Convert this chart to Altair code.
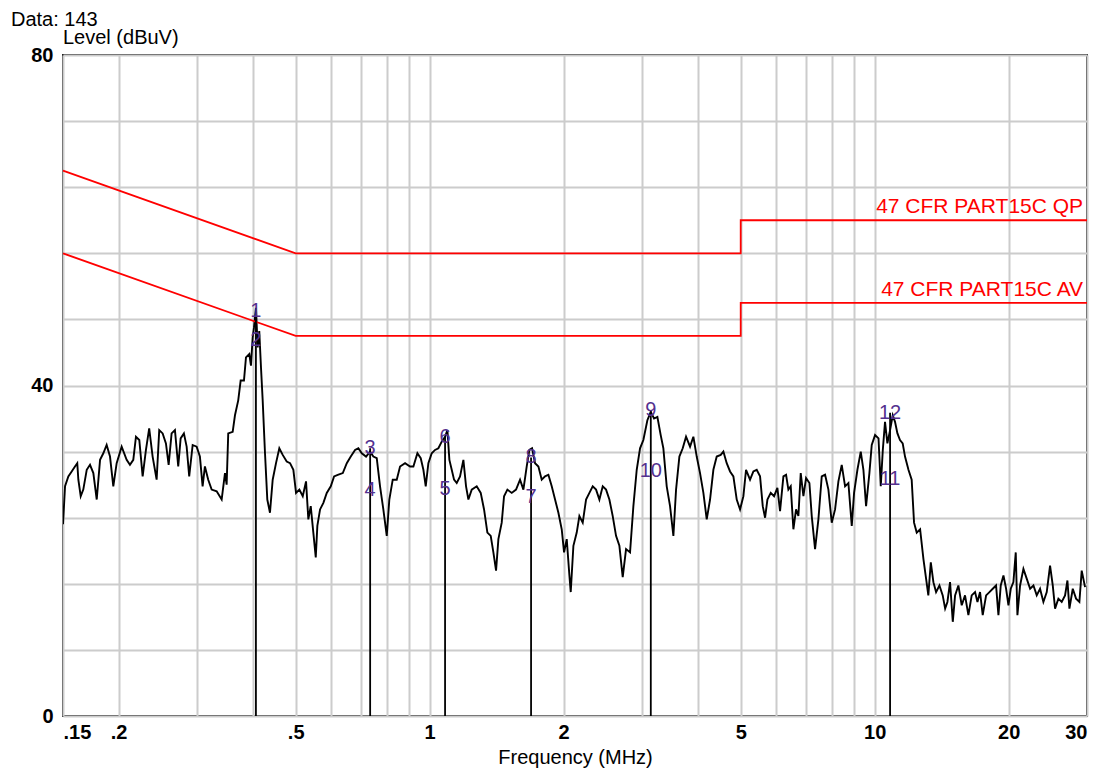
import altair as alt
import pandas as pd

# ---------------- data ----------------
freq_a = [0.150,0.1516,0.1542,0.1569,0.1596,0.1615,0.1624,0.1644,0.1666,0.1696,
          0.1725,0.1755,0.1786,0.1817,0.1848,0.1880,0.1913,0.1946,0.1980,0.2032,
          0.2085,0.2121,0.2158,0.2188,0.2226,0.2265,0.2304,0.2343,0.2385,0.2435,
          0.2468,0.2512,0.2555,0.2591,0.2631,0.2677,0.2723,0.2757,0.2804,0.2844,
          0.2882,0.2934,0.2995,0.3046,0.3089,0.3126,0.3180,0.3237,0.3322,0.3409,
          0.3468,0.3498,0.3527,0.3609,0.3652,0.3714,0.3761,0.3826,0.3866,0.3933,
          0.3967,0.4002,0.4029,0.4071,0.4107,0.4141,0.4178,0.4215,0.4266,0.4317,
          0.4377,0.4439,0.4516,0.4594,0.4675,0.4773,0.4856,0.4940,0.5009,0.5096,
          0.5186,0.5275,0.5338,0.5405,0.5478,0.5547,0.5593,0.5672,0.5770,0.5872,
          0.5995,0.6099,0.6236,0.6380,0.6513,0.6649,0.6798,0.6915,0.7038,0.7196,
          0.7346,0.7473,0.7605,0.7736,0.7869,0.8009,0.8117,0.8261,0.8434,0.8580,
          0.8805,0.9035]
level_a = [23.2,27.8,29.0,29.6,30.2,30.6,28.6,26.6,27.4,29.8,
           30.4,29.4,26.2,31.0,31.8,32.8,31.4,27.8,30.6,32.6,
           31.0,30.4,31.0,33.8,33.4,29.0,32.2,34.8,31.4,28.6,
           34.6,34.2,33.0,30.4,34.2,34.6,30.2,33.6,34.2,32.6,
           29.0,32.8,32.6,31.4,27.8,30.2,28.6,27.4,27.2,26.2,
           29.4,28.0,34.2,34.4,36.4,38.2,40.6,40.6,43.4,43.8,
           42.4,45.8,47.0,49.4,44.6,46.6,42.2,38.2,31.8,26.2,
           24.6,28.6,30.6,32.4,31.6,30.8,30.6,29.8,27.0,27.4,
           26.6,28.4,23.8,25.4,22.2,19.2,23.0,25.0,25.8,27.0,
           27.8,29.0,29.2,29.4,30.6,31.4,32.2,32.4,31.8,31.4,
           32.0,31.4,31.2,27.8,25.0,21.8,26.2,28.6,28.6,30.2,
           30.6,30.2]

freq_b = [0.9193,0.9385,0.9549,0.9681,0.9799,0.9934,1.0108,1.0283,1.0462,1.0644,
          1.0830,1.0961,1.1075,1.1210,1.1345,1.1503,1.1703,1.1907,1.2072,1.2219,
          1.2432,1.2757,1.3024,1.3251,1.3481,1.3716,1.3906,1.4100,1.4271,1.4519,
          1.4695,1.4951,1.5290,1.5636,1.5963,1.6242,1.6524,1.6754,1.6987,1.7252,
          1.7553,1.7858,1.8170,1.8485,1.8807,1.9134,1.9467,1.9805,2.0046,2.0325,
          2.0607,2.0750,2.1038,2.1403,2.1700,2.2079,2.2462,2.2854,2.3250,2.3655,
          2.4066,2.4486,2.4911,2.5343,2.5785,2.6232,2.6690,2.7153,2.7627,2.8204,
          2.8694,2.9194,2.9701,3.0216,3.0849,3.1387,3.1931,3.2488,3.3052,3.3511,
          3.4096,3.4688,3.5293,3.5784,3.6405,3.7040,3.7683,3.8471,3.9138,3.9821,
          4.0512,4.1219,4.1938,4.2666,4.3406,4.4164,4.5087,4.5714,4.6507,4.7319,
          4.8140,4.8980,4.9830,5.0695,5.1399,5.2474,5.3390,5.4316,5.5264]
level_b = [30.2,31.8,31.2,29.8,27.8,30.6,31.8,32.2,32.4,33.2,
           33.8,34.6,31.0,29.8,28.6,28.2,29.0,31.0,27.8,26.2,
           27.4,27.8,27.0,25.0,22.2,21.8,19.8,17.6,21.4,23.4,
           26.6,27.4,27.0,27.4,28.6,27.4,30.2,32.2,32.4,30.6,
           30.2,28.6,29.0,29.2,27.8,26.2,24.6,22.6,19.8,21.4,
           17.0,15.0,20.6,22.2,24.2,23.4,26.2,27.0,27.8,27.4,
           26.2,27.8,27.4,26.2,24.2,21.8,20.6,16.8,20.2,19.8,
           25.4,29.8,32.4,33.4,35.8,36.8,36.0,36.2,34.0,32.4,
           27.8,25.4,21.8,27.4,31.4,32.4,33.8,32.6,33.8,31.4,
           29.4,27.0,23.8,26.2,29.8,31.4,31.6,32.0,30.6,29.6,
           29.0,26.2,25.0,26.6,29.8,28.6,29.6,29.8,29.0]

freq_c = [5.604,5.672,5.741,5.841,5.942,6.045,6.129,6.236,6.323,6.399,
          6.477,6.567,6.658,6.739,6.821,6.916,7.012,7.134,7.221,7.346,
          7.474,7.604,7.737,7.871,8.008,8.147,8.289,8.433,8.580,8.729,
          8.882,8.989,9.146,9.305,9.434,9.565,9.731,9.849,10.02,10.20,
          10.32,10.43,10.55,10.68,10.83,10.98,11.11,11.25,11.40,11.56,
          11.70,11.91,12.11,12.26,12.43,12.65,12.87,13.05,13.20,13.37,
          13.55,13.74,13.98,14.22,14.40,14.57,14.77,14.98,15.16,15.42,
          15.69,15.96,16.24,16.52,16.81,17.02,17.25,17.49,17.80,18.11,
          18.42,18.74,18.97,19.20,19.47,19.74,19.98,20.22,20.50,20.75,
          20.93,21.22,21.59,21.97,22.35,22.74,23.13,23.53,23.94,24.36,
          24.78,25.13,25.43,25.87,26.32,26.78,27.11,27.39,27.87,28.35,
          28.84,29.19,29.70]
level_c = [25.4,24.0,26.2,27.0,26.6,27.6,24.8,29.0,29.2,27.4,
           27.8,22.6,25.0,24.2,29.4,26.6,28.8,28.2,24.2,20.2,
           23.8,29.0,29.2,27.4,23.4,25.0,28.4,30.4,27.8,28.2,
           23.0,27.0,29.8,32.0,29.8,25.4,29.4,32.8,34.0,33.6,
           27.8,32.2,35.6,33.0,34.6,36.4,35.6,34.2,33.4,33.0,
           31.4,29.8,28.6,23.4,22.2,22.6,19.0,16.6,14.6,18.6,
           16.2,15.0,15.8,14.6,13.0,13.8,16.2,11.4,14.6,15.8,
           13.4,14.6,12.2,14.6,15.0,13.8,15.0,12.2,14.6,15.0,
           15.4,15.8,12.2,15.8,17.0,15.4,13.4,15.4,16.2,19.8,
           12.2,15.8,17.8,16.6,15.4,15.8,14.6,15.4,13.8,15.0,
           18.2,15.8,13.0,14.2,13.8,14.6,16.4,13.0,15.4,14.2,
           13.8,17.6,15.6]

# limit lines (47 CFR Part 15C)
limit_freq = [0.15, 0.5, 5, 5, 30]
qp_level = [66, 56, 56, 60, 60]
av_level = [56, 46, 46, 50, 50]
limit_names = ["47 CFR PART15C QP", "47 CFR PART15C AV"]
limit_label_freq = [29.4, 29.4]
limit_label_level = [61.6, 51.6]

# markers
marker_no = ["1", "2", "3", "4", "5", "6", "7", "8", "9", "10", "11", "12"]
marker_freq = [0.407, 0.407, 0.735, 0.735, 1.083, 1.083, 1.69, 1.69, 3.14, 3.14, 10.83, 10.83]
marker_level = [49.0, 45.5, 32.4, 27.4, 27.5, 33.8, 26.5, 31.3, 37.0, 29.6, 28.7, 36.7]

# axes
x_grid = [0.15, 0.2, 0.3, 0.4, 0.5, 0.6, 0.7, 0.8, 0.9, 1, 2, 3, 4, 5, 6, 7, 8, 9, 10, 20, 30]
y_grid = [0, 8, 16, 24, 32, 40, 48, 56, 64, 72, 80]

# ---------------- tables ----------------
trace = pd.DataFrame({"f": freq_a + freq_b + freq_c, "lvl": level_a + level_b + level_c})
trace["i"] = range(len(trace))

limits = pd.DataFrame({
    "f": limit_freq + limit_freq,
    "lvl": qp_level + av_level,
    "name": ["QP"] * 5 + ["AV"] * 5,
    "i": list(range(10)),
})
limit_labels = pd.DataFrame({"t": limit_names, "f": limit_label_freq, "lvl": limit_label_level})

markers = pd.DataFrame({"no": marker_no, "f": marker_freq, "lvl": marker_level})
rules = markers.groupby("f", as_index=False)["lvl"].max()
rules["base"] = 0

FONT = "Liberation Sans"

x_label_expr = ("datum.value == 0.15 ? '.15' : datum.value == 0.2 ? '.2' : datum.value == 0.5 ? '.5' : "
                "datum.value == 1 ? '1' : datum.value == 2 ? '2' : datum.value == 5 ? '5' : "
                "datum.value == 10 ? '10' : datum.value == 20 ? '20' : datum.value == 30 ? '30' : ''")
y_label_expr = "(datum.value == 0 || datum.value == 40 || datum.value == 80) ? datum.label : ''"

x_axis = alt.Axis(values=x_grid, labelExpr=x_label_expr, title="Frequency (MHz)",
                  grid=True, gridColor="#cccccc", gridWidth=2, ticks=False, tickSize=0,
                  domain=False, labelFlush=True, labelOverlap=False,
                  labelFont=FONT, labelFontSize=20, labelFontWeight="bold", labelColor="#000",
                  labelPadding=6, titleFont=FONT, titleFontSize=20, titleFontWeight="normal",
                  titleColor="#000", titlePadding=5)
y_axis = alt.Axis(values=y_grid, labelExpr=y_label_expr, title=None,
                  grid=True, gridColor="#cccccc", gridWidth=2, ticks=False, tickSize=0,
                  domain=False, labelOverlap=False,
                  labelFont=FONT, labelFontSize=20, labelFontWeight="bold", labelColor="#000",
                  labelPadding=10)

xs = alt.Scale(type="log", domain=[0.15, 30], nice=False)
ys = alt.Scale(domain=[0, 80], nice=False, zero=False)

X = alt.X("f:Q", scale=xs, axis=x_axis)
Y = alt.Y("lvl:Q", scale=ys, axis=y_axis)

trace_layer = alt.Chart(trace).mark_line(color="#000000", strokeWidth=1.9, clip=True).encode(
    x=X, y=Y, order="i:Q")

limit_layer = alt.Chart(limits).mark_line(color="#ff0000", strokeWidth=1.8).encode(
    x=X, y=Y, detail="name:N", order="i:Q")

rule_layer = alt.Chart(rules).mark_rule(color="#000000", strokeWidth=1.8).encode(
    x=X, y=alt.Y("base:Q", scale=ys, axis=y_axis), y2="lvl:Q")

marker_text = alt.Chart(markers).mark_text(font=FONT, fontSize=20, color="#54318f",
                                           align="center", baseline="middle").encode(
    x=X, y=Y, text="no:N")

limit_text = alt.Chart(limit_labels).mark_text(font=FONT, fontSize=21, color="#ff0000",
                                               align="right", baseline="middle").encode(
    x=X, y=Y, text="t:N")

title_df = pd.DataFrame({"t": ["Data: 143"]})
data_title = alt.Chart(title_df).mark_text(font=FONT, fontSize=20, color="#000", align="left",
                                           baseline="middle").encode(
    x=alt.value(-52), y=alt.value(-35), text="t:N")
level_df = pd.DataFrame({"t": ["Level (dBuV)"]})
level_title = alt.Chart(level_df).mark_text(font=FONT, fontSize=20, color="#000", align="left",
                                            baseline="middle").encode(
    x=alt.value(0), y=alt.value(-17), text="t:N")

chart = alt.layer(trace_layer, limit_layer, rule_layer, marker_text, limit_text,
                  data_title, level_title).properties(
    width=1024, height=661,
    autosize=alt.AutoSizeParams(type="none"),
    padding={"left": 55, "top": 47, "right": 12, "bottom": 55},
    background="#ffffff",
).configure_view(stroke="#222222", strokeWidth=2)

chart.save("out.html", embed_options={"renderer": "svg", "actions": False})
